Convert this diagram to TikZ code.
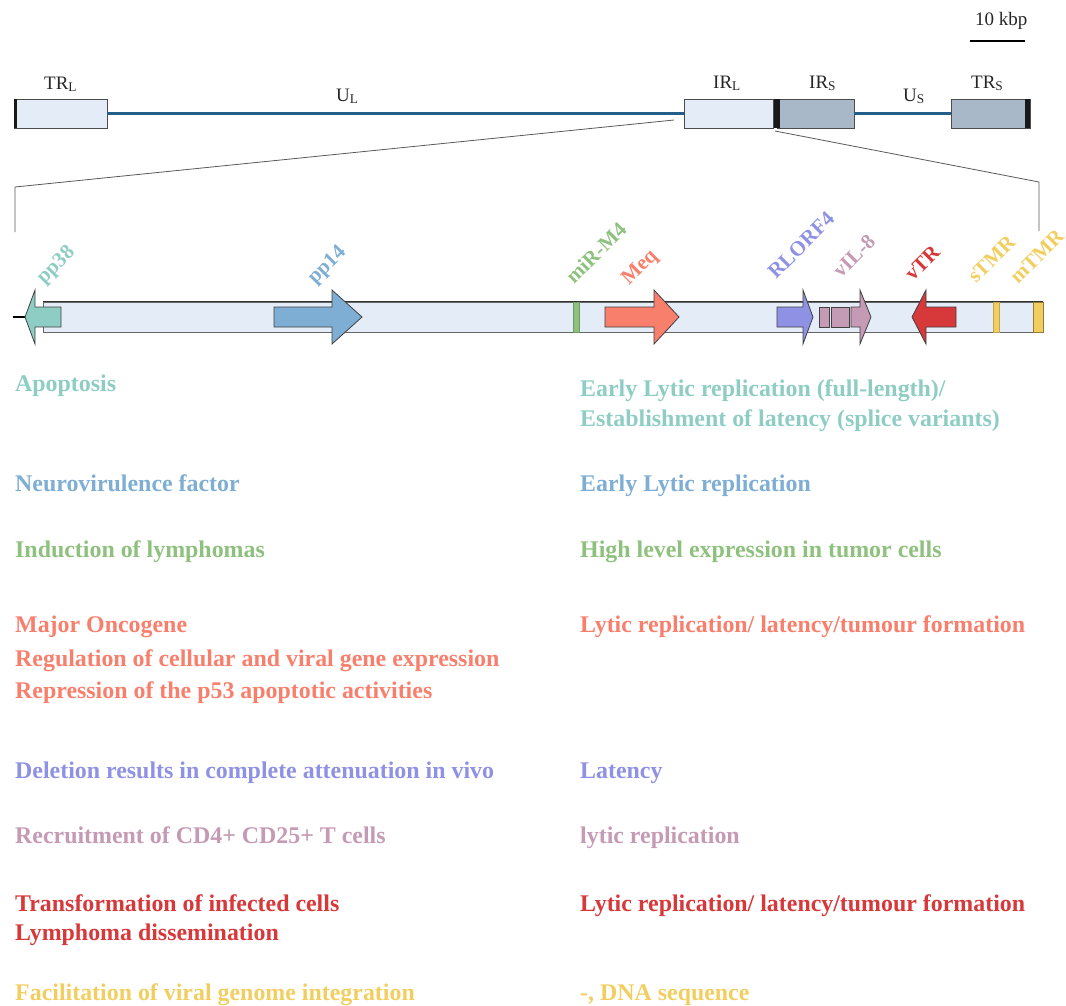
\documentclass[tikz,border=0pt]{standalone}
\usepackage{fontspec}
\setmainfont{Liberation Serif}
\usetikzlibrary{positioning}

\definecolor{barfill}{HTML}{E4ECF7}
\definecolor{srfill}{HTML}{A8B8C8}
\definecolor{uline}{HTML}{245F8C}
\definecolor{cpp38}{HTML}{8ECDC4}
\definecolor{cpp14}{HTML}{7EAED3}
\definecolor{cmir}{HTML}{8FC17E}
\definecolor{cmeq}{HTML}{F97F6D}
\definecolor{crlorf}{HTML}{8E91E4}
\definecolor{cvil}{HTML}{C59AB5}
\definecolor{cvtr}{HTML}{D7383A}
\definecolor{ctmr}{HTML}{F2CE60}

\begin{document}
\begin{tikzpicture}[x=1pt,y=-1pt,
    every node/.style={inner sep=0pt},
    regbox/.style={draw=black!70,line width=0.8pt,minimum height=29},
    maplabel/.style={anchor=base west,font=\fontsize{19}{22}\selectfont,text=black!85},
    glabel/.style={anchor=base west,rotate=45,font=\fontsize{21}{25}\bfseries},
    txt/.style={anchor=base west,font=\fontsize{23.9}{28}\bfseries},
    gene/.style={draw=black!75,line width=0.8pt},
    zoomline/.style={draw=black!65,line width=0.8pt}]
  \useasboundingbox (0,0) rectangle (1066,1005);

  % scale bar
  \node[maplabel] (kbp) at (975,25) {10 kbp};
  \draw[line width=2pt] (970,41) -- (1025,41);

  % genome map
  \node[regbox,fill=barfill,minimum width=93] (trl) at (60.5,113.5) {};
  \node[regbox,fill=barfill,minimum width=89] (irl) at (729,113.5) {};
  \node[regbox,fill=srfill,minimum width=77] (irs) at (815.5,113.5) {};
  \node[regbox,fill=srfill,minimum width=79] (trs) at (990.5,113.5) {};
  \fill[black!90] (trl.north west) rectangle ++(3,29);
  \fill[black!90] (irl.north east) rectangle ++(6,29);
  \fill[black!90] (trs.north east) rectangle ++(-5,29);
  \draw[uline,line width=3pt] (trl.east) -- (irl.west);
  \draw[uline,line width=3pt] (irs.east) -- (trs.west);

  \node[maplabel] (ltrl) at (44,89) {TR\textsubscript{L}};
  \node[maplabel] (lul) at (336,101) {U\textsubscript{L}};
  \node[maplabel] (lirl) at (713,88) {IR\textsubscript{L}};
  \node[maplabel] (lirs) at (809,88) {IR\textsubscript{S}};
  \node[maplabel] (lus) at (903,101) {U\textsubscript{S}};
  \node[maplabel] (ltrs) at (971,88) {TR\textsubscript{S}};

  % zoom lines
  \coordinate (zla) at (674,120);
  \coordinate (zlb) at (15,187);
  \coordinate (zlc) at (15,232);
  \coordinate (zra) at (775,131);
  \coordinate (zrb) at (1039,182);
  \coordinate (zrc) at (1039,231);
  \draw[zoomline] (zla) -- (zlb) -- (zlc);
  \draw[zoomline] (zra) -- (zrb) -- (zrc);

  % enlarged region
  \node[draw=black!60,line width=0.8pt,fill=barfill,minimum width=1000,minimum height=30] (bar) at (543,317) {};
  \draw[black!80,line width=0.8pt] (bar.north west) -- (bar.north east);
  \draw[line width=1.2pt] (13,317) -- (25,317);
  \filldraw[fill=cmir,draw=cmir!80!black,line width=0.6pt] (573,302) rectangle (579,332);
  \filldraw[fill=ctmr,draw=ctmr!80!black,line width=0.6pt] (993,302) rectangle (999,332);
  \filldraw[fill=ctmr,draw=ctmr!60!black,line width=0.6pt] (1033,302) rectangle (1043,332);

  \filldraw[gene,fill=cpp38] (61,307) -- (35,307) -- (35,290) -- (25,317) -- (35,344) -- (35,327) -- (61,327) -- cycle;
  \filldraw[gene,fill=cpp14] (274,307) -- (332,307) -- (332,290) -- (362,317) -- (332,344) -- (332,327) -- (274,327) -- cycle;
  \filldraw[gene,fill=cmeq] (605,307) -- (654,307) -- (654,290) -- (679,317) -- (654,344) -- (654,327) -- (605,327) -- cycle;
  \filldraw[gene,fill=crlorf] (777,307) -- (803,307) -- (803,290) -- (813,317) -- (803,344) -- (803,327) -- (777,327) -- cycle;
  \filldraw[gene,fill=cvil] (819,307) rectangle (829,327);
  \filldraw[gene,fill=cvil] (831,307) rectangle (849,327);
  \filldraw[gene,fill=cvil] (851,307) -- (860,307) -- (860,290) -- (871,317) -- (860,344) -- (860,327) -- (851,327) -- cycle;
  \filldraw[gene,fill=cvtr] (956,307) -- (926,307) -- (926,290) -- (912,317) -- (926,344) -- (926,327) -- (956,327) -- cycle;

  \node[glabel,text=cpp38] (npp38) at (44,285) {pp38};
  \node[glabel,text=cpp14] (npp14) at (315,285) {pp14};
  \node[glabel,text=cmir] (nmir) at (574,285) {miR-M4};
  \node[glabel,text=cmeq] (nmeq) at (629,286) {Meq};
  \node[glabel,text=crlorf] (nrlorf) at (776,280) {RLORF4};
  \node[glabel,text=cvil] (nvil) at (841,279) {vIL-8};
  \node[glabel,text=cvtr] (nvtr) at (913,282) {vTR};
  \node[glabel,text=ctmr] (nstmr) at (976,284) {sTMR};
  \node[glabel,text=ctmr] (nmtmr) at (1018,285) {mTMR};

  % functions (left) and roles (right)
  \node[txt,text=cpp38] (fpp38) at (15,391) {Apoptosis};
  \node[txt,text=cpp38] (rpp38a) at (580,396) {Early Lytic replication (full-length)/};
  \node[txt,text=cpp38] (rpp38b) at (580,426) {Establishment of latency (splice variants)};

  \node[txt,text=cpp14] (fpp14) at (15,491) {Neurovirulence factor};
  \node[txt,text=cpp14] (rpp14) at (580,491) {Early Lytic replication};

  \node[txt,text=cmir] (fmir) at (15,557) {Induction of lymphomas};
  \node[txt,text=cmir] (rmir) at (580,557) {High level expression in tumor cells};

  \node[txt,text=cmeq] (fmeqa) at (15,632) {Major Oncogene};
  \node[txt,text=cmeq] (fmeqb) at (15,666) {Regulation of cellular and viral gene expression};
  \node[txt,text=cmeq] (fmeqc) at (15,698) {Repression of the p53 apoptotic activities};
  \node[txt,text=cmeq] (rmeq) at (580,632) {Lytic replication/ latency/tumour formation};

  \node[txt,text=crlorf] (frlorf) at (15,778) {Deletion results in complete attenuation in vivo};
  \node[txt,text=crlorf] (rrlorf) at (580,778) {Latency};

  \node[txt,text=cvil] (fvil) at (15,843) {Recruitment of CD4+ CD25+ T cells};
  \node[txt,text=cvil] (rvil) at (580,843) {lytic replication};

  \node[txt,text=cvtr] (fvtra) at (15,911) {Transformation of infected cells};
  \node[txt,text=cvtr] (fvtrb) at (15,940) {Lymphoma dissemination};
  \node[txt,text=cvtr] (rvtr) at (580,911) {Lytic replication/ latency/tumour formation};

  \node[txt,text=ctmr] (ftmr) at (15,1000) {Facilitation of viral genome integration};
  \node[txt,text=ctmr] (rtmr) at (580,1000) {-, DNA sequence};
\end{tikzpicture}
\end{document}
